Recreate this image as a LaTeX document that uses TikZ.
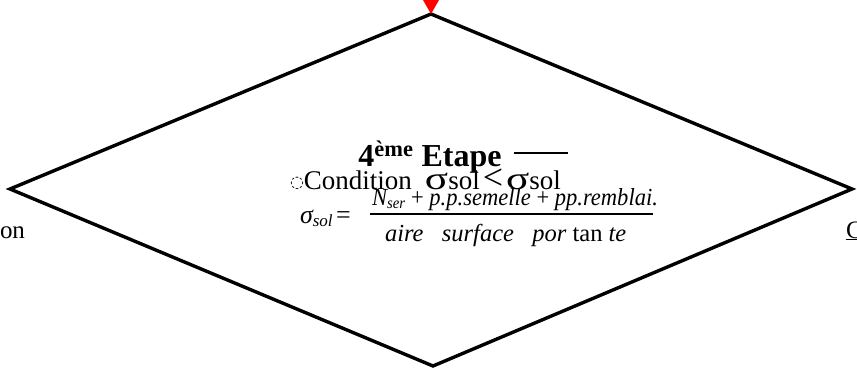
\documentclass[tikz,border=0pt]{standalone}
\usepackage{graphicx}
\usepackage{fontspec}
\setmainfont{Liberation Serif}
\newfontfamily\djv{DejaVu Sans}
\newcommand\widesig{\scalebox{1.35}[1]{\fontsize{32}{32}\selectfont σ}}
\begin{document}
\begin{tikzpicture}[x=1pt,y=-1pt,
  txt/.style={inner sep=0pt,outer sep=0pt,anchor=base},
  edge/.style={line width=3.4pt,line join=miter}]
\useasboundingbox (0,0) rectangle (857,372);
% diamond
\coordinate (T) at (431,14);
\coordinate (R) at (852,189);
\coordinate (B) at (433,366);
\coordinate (L) at (10,189);
\draw[edge] (T) -- (R) -- (B) -- (L) -- cycle;
% incoming arrow head
\fill[red] (423,0) -- (439,0) -- (T) -- cycle;
% title
\node[txt] (title) at (430,166) {\fontsize{32}{34}\selectfont\bfseries 4\textsuperscript{ème} Etape};
% condition
\node[txt,anchor=base west] (cond) at (290,189) {\fontsize{27}{28}\selectfont{\djv\fontsize{16}{16}\selectfont\raisebox{2pt}{◌}}Condition\hspace{13pt}\widesig sol\hspace{3pt}{\fontsize{36}{36}\selectfont <}\hspace{3pt}\widesig sol};
\draw[line width=1.2pt] (514,153) -- (568,153);
% formula
\node[txt,anchor=base west] (lhs) at (300,223) {\fontsize{26}{28}\selectfont\itshape σ\textsubscript{\fontsize{17}{17}\selectfont sol}\hspace{3pt}\upshape=};
\node[txt,anchor=base west,xscale=0.92] (num) at (372,205) {\fontsize{24.5}{26}\selectfont\itshape N\textsubscript{\fontsize{16}{16}\selectfont ser}\upshape{ + }\itshape p.p.semelle\upshape{ + }\itshape pp.remblai.};
\draw[line width=1.2pt] (370,214) -- (653,214);
\node[txt,anchor=base west] (den) at (385,241) {\fontsize{24.5}{26}\selectfont\itshape aire\ \ \ surface\ \ \ por \upshape tan \itshape te};
% side texts
\node[txt,anchor=base west] (lt) at (0,238) {\fontsize{25}{26}\selectfont on};
\node[txt,anchor=base west] (rt) at (846,238) {\fontsize{25}{26}\selectfont\underline{C}};
\end{tikzpicture}
\end{document}
